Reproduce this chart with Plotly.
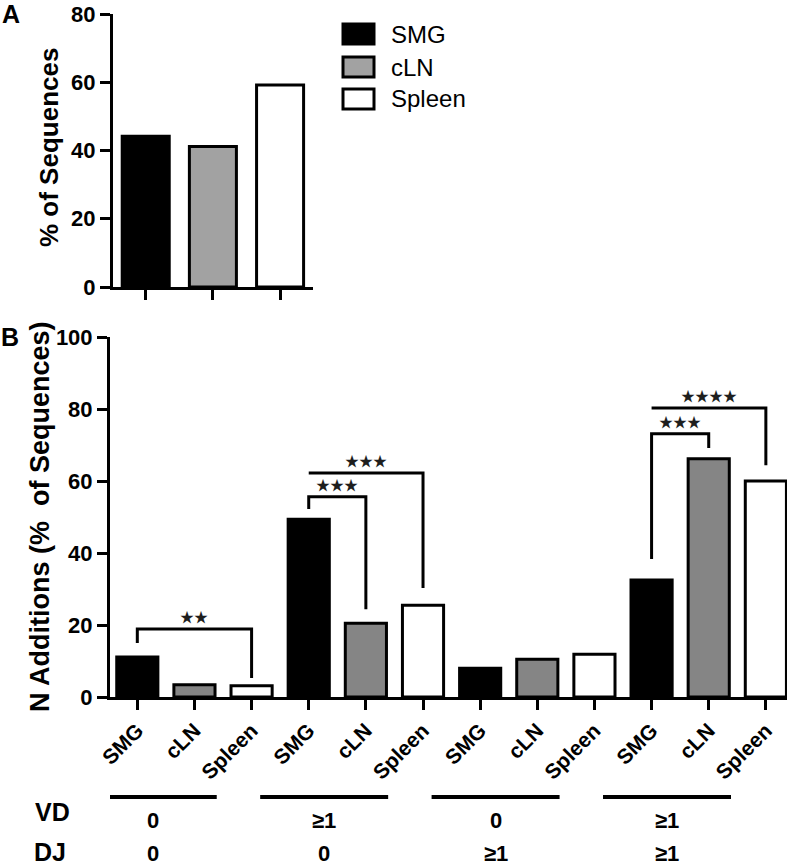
import plotly.graph_objects as go

# ---------------- data ----------------
tissues = ["SMG", "cLN", "Spleen"]
pct_a = [44.2, 41.2, 59.2]          # panel A, % of sequences

vd_labels = ["0", "\u22651", "0", "\u22651"]
dj_labels = ["0", "0", "\u22651", "\u22651"]
smg_b = [11.1, 49.4, 8.0, 32.5]
cln_b = [3.4, 20.5, 10.5, 66.2]
spleen_b = [3.1, 25.5, 11.9, 60.0]

# significance brackets: bar index from/to, bar level, left/right leg ends, label
brackets = [
    dict(i0=0, i1=2, y=18.9, y0=15.0, y1=5.3, label="\u2605\u2605"),
    dict(i0=3, i1=4, y=55.6, y0=52.2, y1=24.4, label="\u2605\u2605\u2605"),
    dict(i0=3, i1=5, y=62.2, y0=None, y1=30.3, label="\u2605\u2605\u2605"),
    dict(i0=9, i1=10, y=73.1, y0=38.3, y1=69.2, label="\u2605\u2605\u2605"),
    dict(i0=9, i1=11, y=80.3, y0=None, y1=64.4, label="\u2605\u2605\u2605\u2605"),
]

# ---------------- styling ----------------
W, H = 797, 868
FONT = "Arial"
GRAY_A = "#a2a2a2"
GRAY_B = "#858585"
fills_a = ["#000000", GRAY_A, "#ffffff"]
fills_b = ["#000000", GRAY_B, "#ffffff"]


def px(x):
    return x / W


def py(y):
    return 1 - y / H


fig = go.Figure()

# Panel A
fig.add_trace(go.Bar(
    x=list(range(len(tissues))), y=pct_a, width=0.7,
    marker=dict(color=fills_a, line=dict(color="black", width=3)),
    xaxis="x", yaxis="y", showlegend=False, hoverinfo="skip",
))

# Panel B
series_b = [smg_b, cln_b, spleen_b]
nt = len(tissues)
for k, vals in enumerate(series_b):
    xs = [g * nt + k for g in range(len(vals))]
    fig.add_trace(go.Bar(
        x=xs, y=vals, width=0.72,
        marker=dict(color=fills_b[k], line=dict(color="black", width=3)),
        xaxis="x2", yaxis="y2", showlegend=False, hoverinfo="skip", cliponaxis=False,
    ))

ngroups = len(vd_labels)
nbars = ngroups * nt

tickfont = dict(family=FONT, size=22, color="black", weight="bold")
axis_common = dict(showline=True, linecolor="black", linewidth=3,
                   ticks="outside", ticklen=10, tickwidth=3, tickcolor="black",
                   showgrid=False, zeroline=False, fixedrange=True, automargin=False)

fig.update_layout(
    template="none",
    width=W, height=H,
    margin=dict(l=0, r=0, t=0, b=0, pad=0),
    paper_bgcolor="white", plot_bgcolor="white",
    xaxis=dict(domain=[px(113), px(313)], range=[-0.487, 2.49],
               tickvals=list(range(nt)), showticklabels=False,
               anchor="y", **axis_common),
    yaxis=dict(domain=[py(287), py(14)], range=[0, 80], tickvals=[0, 20, 40, 60, 80],
               tickfont=tickfont, anchor="x", **axis_common),
    xaxis2=dict(domain=[px(110), px(787)], range=[-0.478, 11.37],
                tickvals=list(range(nbars)), ticktext=tissues * ngroups,
                tickangle=-45, tickfont=dict(family=FONT, size=21, color="black", weight="bold"),
                anchor="y2", **axis_common),
    yaxis2=dict(domain=[py(697), py(337)], range=[0, 100],
                tickvals=[0, 20, 40, 60, 80, 100],
                tickfont=tickfont, anchor="x2", **axis_common),
)

shapes = []
annotations = []

# axis titles
annotations.append(dict(text="% of Sequences", x=px(49), y=py(148), xref="paper", yref="paper",
                        textangle=-90, showarrow=False, xanchor="center", yanchor="middle",
                        font=dict(family=FONT, size=26, color="black", weight="bold")))
annotations.append(dict(text="N Additions (%\u00a0 of Sequences)", x=px(40), y=py(517),
                        xref="paper", yref="paper",
                        textangle=-90, showarrow=False, xanchor="center", yanchor="middle",
                        font=dict(family=FONT, size=27, color="black", weight="bold")))

# panel letters
for letter, (lx, ly) in zip(["A", "B"], [(11, 14), (10, 337)]):
    annotations.append(dict(text=letter, x=px(lx), y=py(ly), xref="paper", yref="paper",
                            showarrow=False, xanchor="center", yanchor="middle",
                            font=dict(family=FONT, size=25, color="black", weight="bold")))

# legend (custom boxes)
leg_y = [34, 67, 99]
for k, name in enumerate(tissues):
    shapes.append(dict(type="rect", xref="paper", yref="paper",
                       x0=px(343), x1=px(374), y0=py(leg_y[k] + 10), y1=py(leg_y[k] - 10),
                       fillcolor=fills_a[k], line=dict(color="black", width=3)))
    annotations.append(dict(text=name, x=px(389), y=py(leg_y[k]), xref="paper", yref="paper",
                            showarrow=False, xanchor="left", yanchor="middle",
                            font=dict(family=FONT, size=24, color="black")))

# significance brackets
for b in brackets:
    x0, x1 = b["i0"], b["i1"]
    if b["y0"] is not None:
        path = f"M {x0} {b['y0']} L {x0} {b['y']} L {x1} {b['y']} L {x1} {b['y1']}"
    else:
        path = f"M {x0} {b['y']} L {x1} {b['y']} L {x1} {b['y1']}"
    shapes.append(dict(type="path", xref="x2", yref="y2", path=path,
                       line=dict(color="black", width=3)))
    annotations.append(dict(text=b["label"], x=(x0 + x1) / 2, y=b["y"], xref="x2", yref="y2",
                            showarrow=False, xanchor="center", yanchor="bottom", yshift=1,
                            font=dict(family="Noto Sans CJK SC", size=14, color="#1e1e1e")))

# VD / DJ rows
row_lab_font = dict(family=FONT, size=25, color="black", weight="bold")
annotations.append(dict(text="VD", x=px(52), y=py(812), xref="paper", yref="paper",
                        showarrow=False, xanchor="center", yanchor="middle", font=row_lab_font))
annotations.append(dict(text="DJ", x=px(50), y=0, xref="paper", yref="paper",
                        showarrow=False, xanchor="center", yanchor="bottom", font=row_lab_font))
val_font = dict(family=FONT, size=22, color="black", weight="bold")
for g in range(ngroups):
    c = g * nt + 1 - 0.73
    shapes.append(dict(type="line", xref="x2", yref="paper",
                       x0=c - 1.12, x1=c + 1.12, y0=py(797), y1=py(797),
                       line=dict(color="black", width=4)))
    annotations.append(dict(text=vd_labels[g], x=c, y=py(820), xref="x2", yref="paper",
                            showarrow=False, xanchor="center", yanchor="middle", font=val_font))
    annotations.append(dict(text=dj_labels[g], x=c, y=0, xref="x2", yref="paper",
                            showarrow=False, xanchor="center", yanchor="bottom", font=val_font))

fig.update_layout(shapes=shapes, annotations=annotations)
fig.write_html("out.html", config={"displayModeBar": False},
               post_script="document.body.style.margin='0px';")
